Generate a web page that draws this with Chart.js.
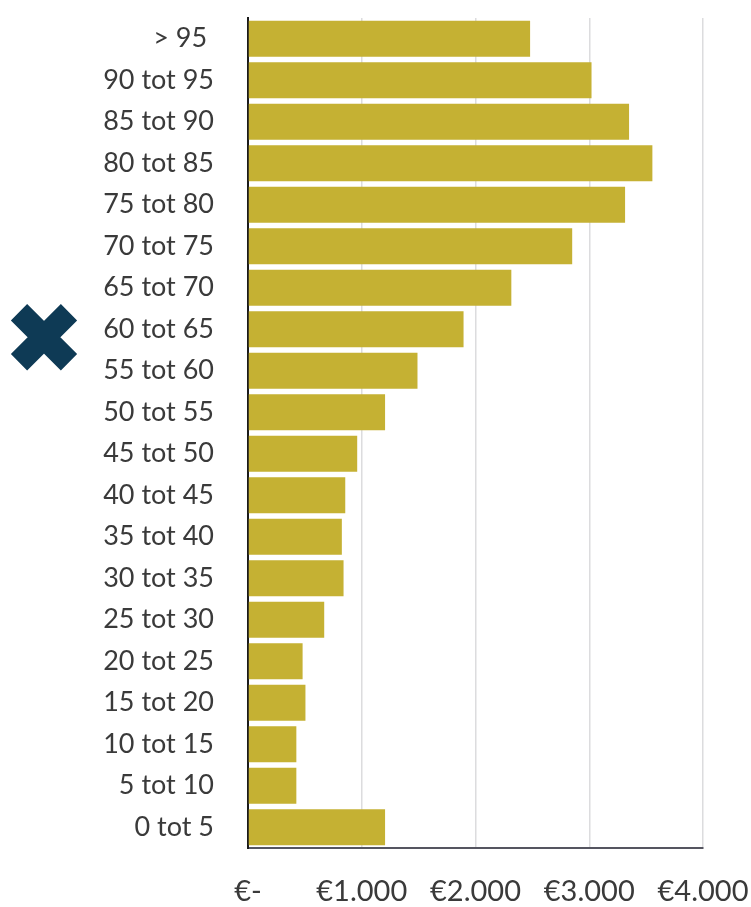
<!DOCTYPE html>
<html>
<head>
<meta charset="utf-8">
<script src="https://cdn.jsdelivr.net/npm/chart.js@4/dist/chart.umd.min.js"></script>
<style>
  html, body { margin: 0; padding: 0; background: #ffffff; }
  #wrap { position: relative; width: 751px; height: 907px; }
</style>
</head>
<body>
<div id="wrap"><canvas id="chart" width="751" height="907"></canvas></div>
<script>
// Age groups, top to bottom
const ageGroups = [
  '> 95 ', '90 tot 95', '85 tot 90', '80 tot 85', '75 tot 80', '70 tot 75',
  '65 tot 70', '60 tot 65', '55 tot 60', '50 tot 55', '45 tot 50', '40 tot 45',
  '35 tot 40', '30 tot 35', '25 tot 30', '20 tot 25', '15 tot 20', '10 tot 15',
  '5 tot 10', '0 tot 5'
];
// Amount per age group, in euro
const amounts = [
  2480, 3020, 3350, 3555, 3315, 2850,
  2315, 1895, 1490, 1205, 960, 855,
  825, 840, 670, 480, 505, 425,
  425, 1205
];
// Euro axis ticks
const axisTicks = [0, 1000, 2000, 3000, 4000];
// Group that gets the cross marker
const markedGroup = '60 tot 65';

function euro(v) {
  if (v === 0) return '€-';
  return '€' + String(v).replace(/\B(?=(\d{3})+(?!\d))/g, '.');
}

// Draws the bold cross beside the marked age group
const crossMarker = {
  id: 'crossMarker',
  afterDraw(chart) {
    const y = chart.scales.y;
    const idx = ageGroups.indexOf(markedGroup);
    const cy = y.getPixelForValue(idx) + 8;
    const cx = 44;
    const r = 25;
    const ctx = chart.ctx;
    ctx.save();
    ctx.strokeStyle = '#0E3A55';
    ctx.lineWidth = 23;
    ctx.lineCap = 'butt';
    ctx.beginPath();
    ctx.moveTo(cx - r, cy - r); ctx.lineTo(cx + r, cy + r);
    ctx.moveTo(cx + r, cy - r); ctx.lineTo(cx - r, cy + r);
    ctx.stroke();
    ctx.restore();
  }
};

new Chart(document.getElementById('chart'), {
  type: 'bar',
  data: {
    labels: ageGroups,
    datasets: [{
      data: amounts,
      backgroundColor: '#C5B133',
      borderWidth: 0,
      categoryPercentage: 1,
      barPercentage: 0.87
    }]
  },
  options: {
    indexAxis: 'y',
    responsive: false,
    animation: false,
    layout: { padding: { top: 18, right: 48, left: 0, bottom: 0 } },
    plugins: { legend: { display: false }, tooltip: { enabled: false } },
    scales: {
      x: {
        min: 0, max: 4000,
        afterBuildTicks(scale) { scale.ticks = axisTicks.map(v => ({ value: v })); },
        afterFit(scale) {
          scale.height = 59;
          scale.paddingLeft = 0; scale.paddingRight = 0;
        },
        grid: {
          drawTicks: false,
          color: ctx => ctx.tick && ctx.tick.value === 0 ? 'rgba(0,0,0,0)' : '#dcdcde',
          lineWidth: 1.5
        },
        border: { color: '#555560', width: 2 },
        ticks: {
          padding: 26,
          color: '#3a3a3a',
          font: { family: 'Lato', size: 29 },
          maxRotation: 0,
          callback: v => euro(v)
        }
      },
      y: {
        afterFit(scale) {
          scale.width = 248;
          scale.paddingTop = 0; scale.paddingBottom = 0;
        },
        grid: { display: false, drawTicks: false },
        border: { color: '#1a1a1a', width: 2 },
        ticks: {
          padding: 34,
          color: '#3a3a3a',
          font: { family: 'Lato', size: 27 }
        }
      }
    }
  },
  plugins: [crossMarker]
});
</script>
</body>
</html>
